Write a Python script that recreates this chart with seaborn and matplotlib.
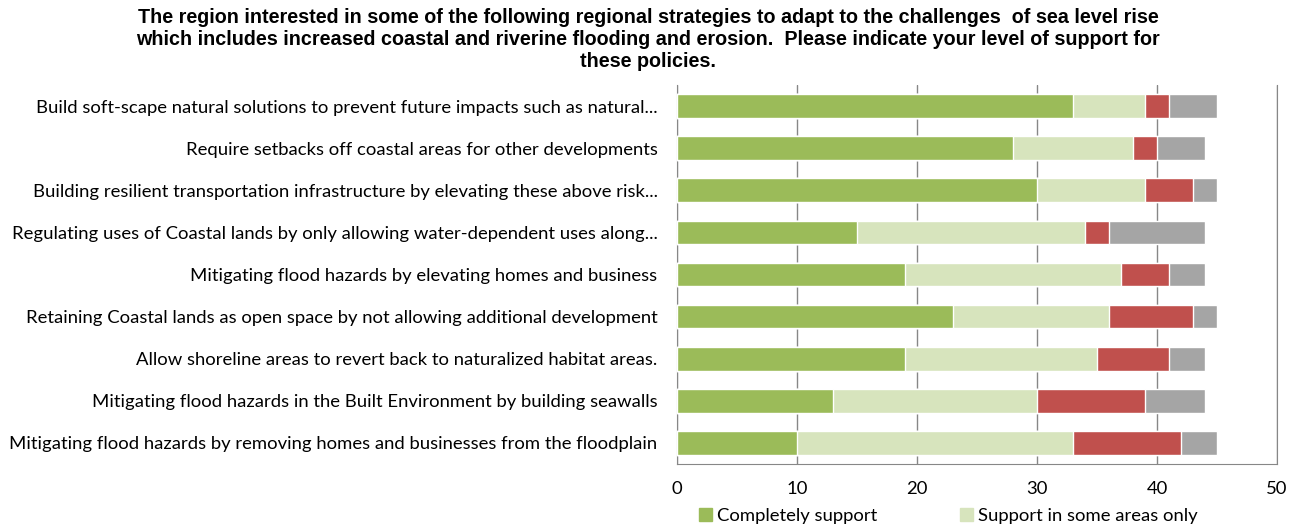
import matplotlib
matplotlib.use("Agg")
import matplotlib.pyplot as plt
import matplotlib.patches as mpatches
import numpy as np
import pandas as pd
import seaborn as sns

# ----- datos -----
estrategias = [
    "Build soft-scape natural solutions to prevent future impacts such as natural...",
    "Require setbacks off coastal areas for other developments",
    "Building resilient transportation infrastructure by elevating these above risk...",
    "Regulating uses of Coastal lands by only allowing water-dependent uses along...",
    "Mitigating flood hazards by elevating homes and business",
    "Retaining Coastal lands as open space by not allowing additional development",
    "Allow shoreline areas to revert back to naturalized habitat areas.",
    "Mitigating flood hazards in the Built Environment by building seawalls",
    "Mitigating flood hazards by removing homes and businesses from the floodplain",
]
completo = [33, 28, 30, 15, 19, 23, 19, 13, 10]
algunas_areas = [6, 10, 9, 19, 18, 13, 16, 17, 23]
no_apoya = [2, 2, 4, 2, 4, 7, 6, 9, 9]
no_sabe = [4, 4, 2, 8, 3, 2, 3, 5, 3]

series = ["Completely support", "Support in some areas only", "Do not support", "Not sure"]
colores = ["#9BBB59", "#D7E4BD", "#C0504D", "#A5A5A5"]

titulo = ("The region interested in some of the following regional strategies to adapt to the challenges  of sea level rise\n"
          "which includes increased coastal and riverine flooding and erosion.  Please indicate your level of support for\n"
          "these policies.")

sns.set_style("white")
plt.rcParams["font.family"] = ["Lato", "DejaVu Sans"]
plt.rcParams["text.color"] = "black"
plt.rcParams["xtick.labelcolor"] = "black"
plt.rcParams["ytick.labelcolor"] = "black"

df = pd.DataFrame({
    "estrategia": estrategias,
    series[0]: completo,
    series[1]: algunas_areas,
    series[2]: no_apoya,
    series[3]: no_sabe,
})
acumulado = df[series].cumsum(axis=1)

fig = plt.figure(figsize=(13.01, 5.25), dpi=100)
ax = fig.add_axes([677 / 1301, 1 - 464 / 525, 600 / 1301, (464 - 85) / 525])

# barras apiladas: se dibuja el total acumulado de mayor a menor
for serie, color in reversed(list(zip(series, colores))):
    sns.barplot(x=acumulado[serie], y=df["estrategia"], color=color,
                width=0.56, orient="h", ax=ax, zorder=3, saturation=1)

ax.set_xlim(0, 50)
ax.set_xticks(range(0, 51, 10))
ax.set_ylim(len(estrategias) - 0.5, -0.5)
ax.set_xlabel("")
ax.set_ylabel("")
ax.grid(axis="x", color="#878787", linewidth=1, zorder=0)
ax.set_axisbelow(True)
ax.spines["top"].set_visible(False)
for lado in ["left", "bottom", "right"]:
    ax.spines[lado].set_color("#878787")
ax.set_yticks(np.arange(-0.5, len(estrategias)), minor=True)
ax.tick_params(axis="y", which="major", length=0, pad=14, labelsize=13.3, labelcolor="black")
ax.tick_params(axis="y", which="minor", length=5, color="#878787", direction="out")
ax.tick_params(axis="x", length=4, color="#878787", labelsize=13.3, pad=8, labelcolor="black")

fig.suptitle(titulo, fontsize=14.2, fontweight="bold", family="Liberation Sans",
             x=0.498, y=0.985, linespacing=1.22, color="black")

handles = [mpatches.Patch(color=c, label=s) for s, c in zip(series[:2], colores[:2])]
fig.legend(handles=handles, loc="lower left", bbox_to_anchor=(682 / 1301, -0.03),
           ncol=2, frameon=False, fontsize=13.3, handlelength=0.75, handleheight=0.75,
           handletextpad=0.25, columnspacing=4.45, labelcolor="black")

fig.savefig("out.png", dpi=100)
